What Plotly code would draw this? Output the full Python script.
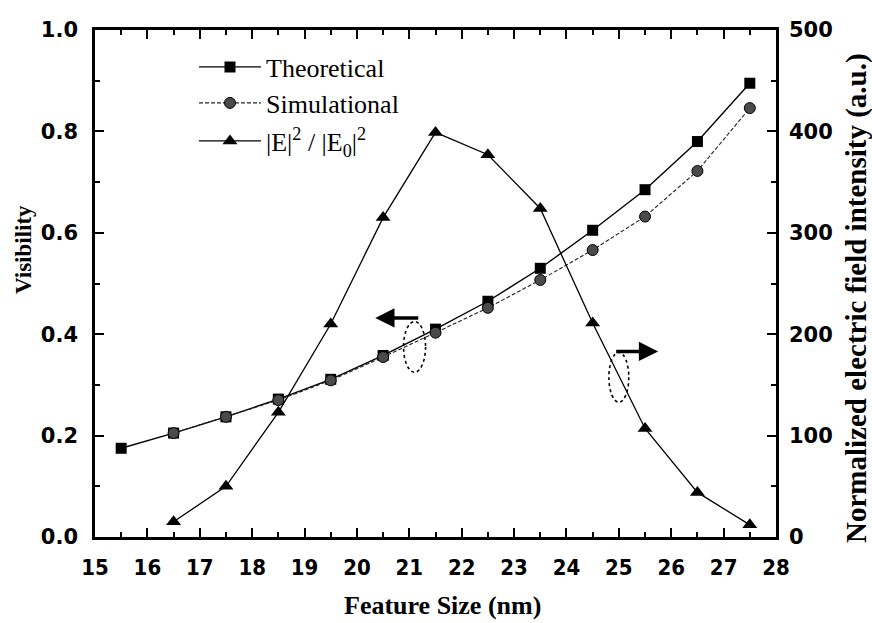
import plotly.graph_objects as go

# ---- data ----
feature_size = [15.5, 16.5, 17.5, 18.5, 19.5, 20.5, 21.5, 22.5, 23.5, 24.5, 25.5, 26.5, 27.5]
theoretical = [0.175, 0.205, 0.237, 0.272, 0.311, 0.358, 0.410, 0.465, 0.530, 0.605, 0.685, 0.780, 0.895]
sim_size = [16.5, 17.5, 18.5, 19.5, 20.5, 21.5, 22.5, 23.5, 24.5, 25.5, 26.5, 27.5]
simulational = [0.205, 0.237, 0.270, 0.309, 0.355, 0.403, 0.452, 0.507, 0.566, 0.632, 0.722, 0.846]
field_size = [16.5, 17.5, 18.5, 19.5, 20.5, 21.5, 22.5, 23.5, 24.5, 25.5, 26.5, 27.5]
field_intensity = [15, 50, 123, 210, 315, 399, 377, 324, 211, 107, 44, 12]

x_ticks = list(range(15, 29))
vis_ticks = [0.0, 0.2, 0.4, 0.6, 0.8, 1.0]
int_ticks = [0, 100, 200, 300, 400, 500]

W, H = 872, 623
ML, MR, MT, MB = 95, 96, 30, 86
PW, PH = W - ML - MR, H - MT - MB

def px_x(p):
    return (p - ML) / PW

def px_y(p):
    return (H - MB - p) / PH

serif = "Liberation Serif"
sans = "DejaVu Sans"
narrow = "DejaVu Sans Condensed, DejaVu Sans"

fig = go.Figure()
fig.add_trace(go.Scatter(
    x=feature_size, y=theoretical, name="Theoretical", mode="lines+markers",
    line=dict(color="black", width=1.4),
    marker=dict(symbol="square", size=11, color="black"),
    legend="legend"))
fig.add_trace(go.Scatter(
    x=sim_size, y=simulational, name="Simulational", mode="lines+markers",
    line=dict(color="#222222", width=1.1, dash="4px,2px"),
    marker=dict(symbol="circle", size=11, color="#4a4a4a", line=dict(color="black", width=1)),
    legend="legend2"))
fig.add_trace(go.Scatter(
    x=field_size, y=field_intensity, name="|E|<sup>2</sup> / |E<sub>0</sub>|<sup>2</sup>",
    mode="lines+markers", yaxis="y2",
    line=dict(color="black", width=1.3),
    marker=dict(symbol="triangle-up", size=13, color="black"),
    legend="legend3"))

axis_common = dict(
    showline=True, linecolor="black", linewidth=2.5,
    ticks="inside", tickcolor="black", tickwidth=2, ticklen=9,
    showgrid=False, zeroline=False,
)
yfont = dict(family=sans, size=21, color="black", weight="bold")
xfont = dict(family=narrow, size=22, color="black", weight="bold")

fig.update_layout(
    width=W, height=H,
    margin=dict(l=ML, r=MR, t=MT, b=MB),
    paper_bgcolor="white", plot_bgcolor="white",
    xaxis=dict(range=[15, 28], tickvals=x_ticks, mirror="ticks", tickfont=xfont,
               minor=dict(dtick=0.5, ticks="inside", ticklen=5, tickwidth=2, tickcolor="black"),
               ticklabelstandoff=9, **axis_common),
    yaxis=dict(range=[0, 1], tickvals=vis_ticks, tickformat=".1f", tickfont=yfont,
               minor=dict(dtick=0.1, ticks="inside", ticklen=5, tickwidth=2, tickcolor="black"),
               ticklabelstandoff=10, **axis_common),
    yaxis2=dict(range=[0, 500], tickvals=int_ticks, overlaying="y", side="right", tickfont=yfont,
                minor=dict(dtick=50, ticks="inside", ticklen=5, tickwidth=2, tickcolor="black"),
                ticklabelstandoff=6, **axis_common),
    showlegend=True,
)

leg_common = dict(xanchor="left", yanchor="middle", bgcolor="rgba(0,0,0,0)",
                  font=dict(family=serif, size=26, color="black"), itemwidth=62)
fig.update_layout(
    legend=dict(x=px_x(194), y=px_y(67), **leg_common),
    legend2=dict(x=px_x(194), y=px_y(103), **leg_common),
    legend3=dict(x=px_x(194), y=px_y(141), **leg_common),
)

# axis titles
fig.add_annotation(text="<b>Feature Size (nm)</b>", xref="paper", yref="paper",
                   x=px_x(442), y=px_y(605), xanchor="center", yanchor="middle", showarrow=False,
                   font=dict(family=serif, size=26, color="black"))
fig.add_annotation(text="<b>Visibility</b>", xref="paper", yref="paper",
                   x=px_x(23), y=px_y(250), xanchor="center", yanchor="middle", showarrow=False,
                   textangle=-90, font=dict(family=serif, size=23, color="black"))
fig.add_annotation(text="<b>Normalized electric field intensity (a.u.)</b>", xref="paper", yref="paper",
                   x=px_x(856), y=px_y(298), xanchor="center", yanchor="middle", showarrow=False,
                   textangle=-90, font=dict(family=serif, size=29, color="black"))

# dashed ellipses marking which curves belong to which axis
fig.add_shape(type="circle", xref="x", yref="y", x0=20.89, x1=21.31, y0=0.325, y1=0.425,
              line=dict(color="black", width=1.6, dash="dot"))
fig.add_shape(type="circle", xref="x", yref="y2", x0=24.81, x1=25.19, y0=133, y1=182,
              line=dict(color="black", width=1.6, dash="dot"))

# arrows
fig.add_annotation(x=20.35, y=0.432, ax=21.2, ay=0.432, xref="x", yref="y", axref="x", ayref="y",
                   showarrow=True, arrowhead=2, arrowsize=1.1, arrowwidth=3.5, arrowcolor="black", text="")
fig.add_annotation(x=25.75, y=183, ax=24.92, ay=183, xref="x", yref="y2", axref="x", ayref="y2",
                   showarrow=True, arrowhead=2, arrowsize=1.1, arrowwidth=3.5, arrowcolor="black", text="")

fig.write_html("out.html")
